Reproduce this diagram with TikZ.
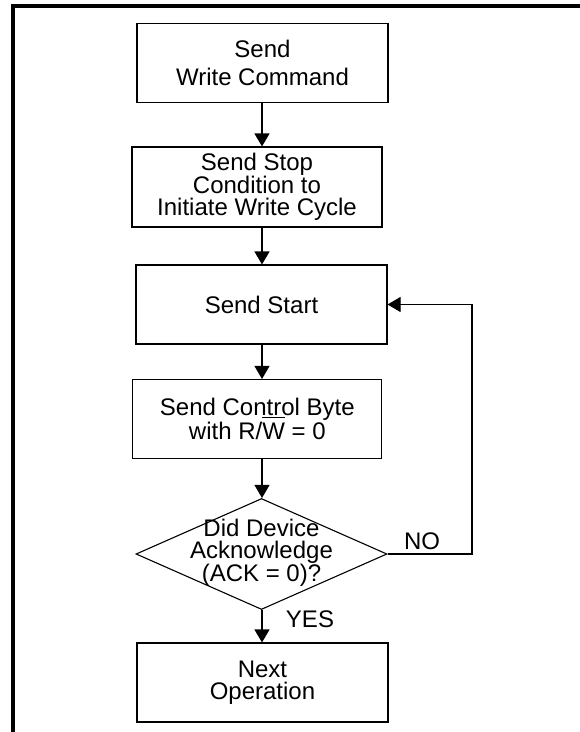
\documentclass[tikz,border=0pt]{standalone}
\usepackage{fontspec}
\setmainfont{Liberation Sans}
\usetikzlibrary{arrows.meta,shapes.geometric,calc}
\newcommand\barW{\leavevmode\setbox0\hbox{W}\rlap{\smash{\raisebox{21pt}{\rule{\wd0}{1.2pt}}}}\box0}
\tikzset{
  stepbox/.style={draw, line width=1.1pt, rectangle, minimum width=251pt, minimum height=79pt, inner sep=0pt, align=center, font=\fontsize{24}{22}\selectfont},
  decbox/.style={draw, line width=1.1pt, diamond, minimum width=251pt, minimum height=111pt, inner sep=0pt},
  lbl/.style={inner sep=0pt, font=\fontsize{24}{22}\selectfont, align=center},
  arr/.style={line width=1.1pt, -{Triangle[width=15pt,length=13pt]}},
  frame/.style={line width=3.5pt}
}
\begin{document}
\begin{tikzpicture}[x=1pt,y=-1pt]
\useasboundingbox (0,0) rectangle (580,732);
\fill[white] (0,0) rectangle (580,732);
\draw[frame] (13,740) -- (13,6) -- (590,6);
\node[stepbox, font=\fontsize{24}{28}\selectfont] (b1) at (262.5,63.3) {Send\\Write Command};
\node[stepbox, minimum width=250pt, minimum height=80pt] (b2) at (257,187) {Send Stop\\Condition to\\Initiate Write Cycle};
\node[stepbox] (b3) at (261.5,304.5) {Send Start};
\node[stepbox, minimum width=249pt] (b4) at (257.3,419) {Send Control Byte\\with R/\barW{} = 0};
\node[decbox] (dec) at (261.5,554) {};
\node[lbl] (dect) at (261.5,553) {Did Device\\Acknowledge\\(ACK = 0)?};
\node[stepbox] (b5) at (262.5,682.5) {Next\\Operation};
\coordinate (axis) at (262,0);
\coordinate (rt) at (472,0);
\draw[arr] (b1.south -| axis) -- (b2.north -| axis);
\draw[arr] (b2.south -| axis) -- (b3.north -| axis);
\draw[arr] (b3.south -| axis) -- (b4.north -| axis);
\draw[arr] (b4.south -| axis) -- (dec.north -| axis);
\draw[arr] (dec.south -| axis) -- (b5.north -| axis);
\draw[arr] (dec.east) -- (dec.east -| rt) |- (b3.east);
\node[lbl] (no) at (422,541) {NO};
\node[lbl] (yes) at (310,619) {YES};
\end{tikzpicture}
\end{document}
